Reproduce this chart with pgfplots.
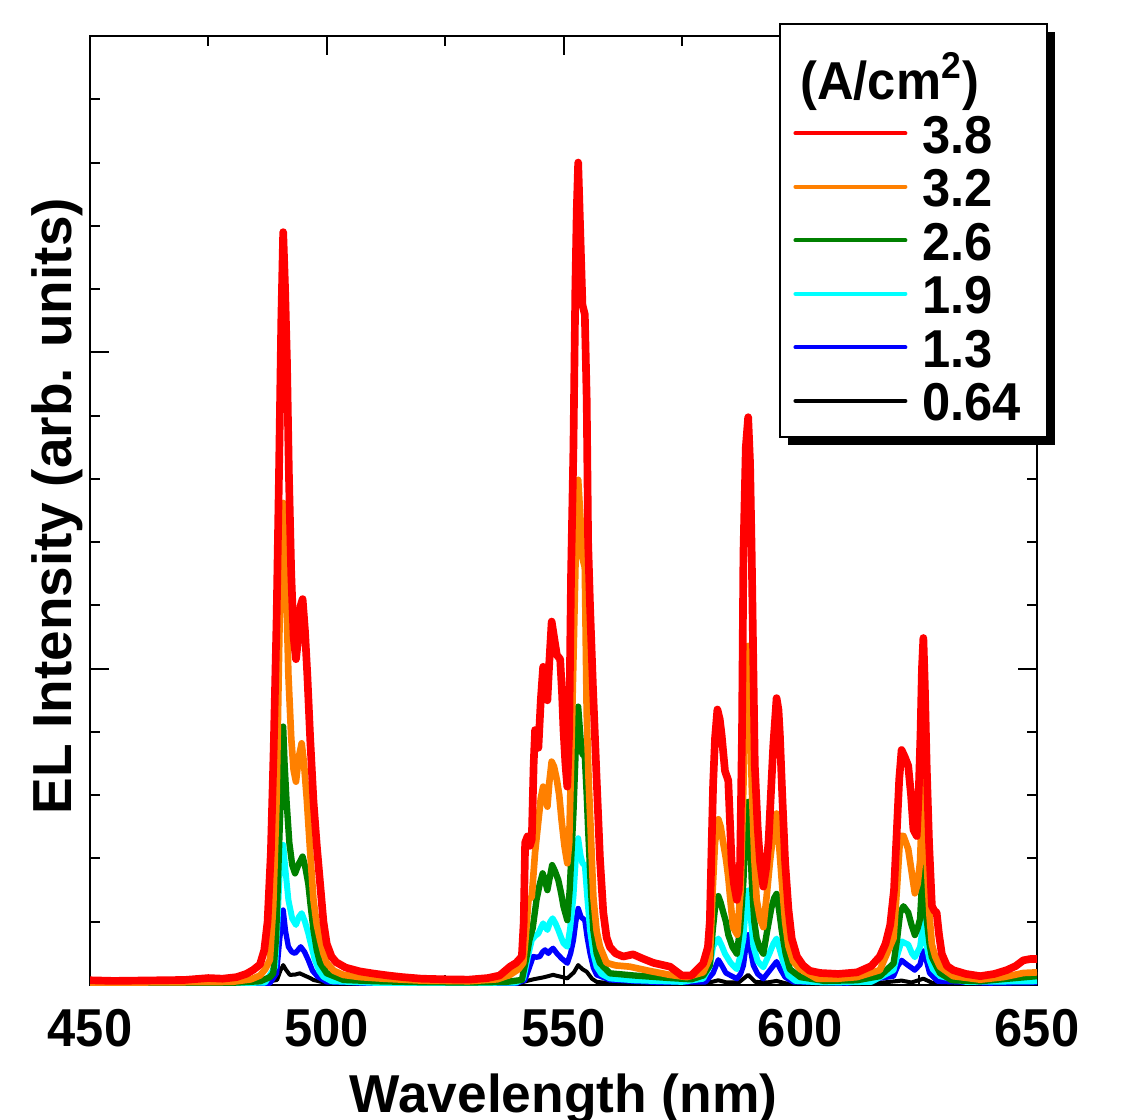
\documentclass[border=0pt]{standalone}
\usepackage{pgfplots}
\pgfplotsset{compat=1.18}
\usepackage{pgfplotstable}
\usepackage{fontspec}
\setmainfont{Liberation Sans}
\newfontfamily\nar{Liberation Sans}[FakeStretch=0.95]
\usetikzlibrary{backgrounds}
\definecolor{cRed}{RGB}{255,0,0}
\definecolor{cOrange}{RGB}{255,128,0}
\definecolor{cGreen}{RGB}{0,128,0}
\definecolor{cCyan}{RGB}{0,255,255}
\definecolor{cBlue}{RGB}{0,0,255}

\pgfplotstableread[row sep=\\]{x y\\
450 0.015\\ 455 0.013\\ 460 0.014\\ 465 0.015\\ 470 0.016\\ 475 0.022\\ 478 0.02\\ 481 0.025\\ 483 0.035\\ 484.5 0.048\\
485.9 0.065\\ 486.8 0.11\\ 487.5 0.2\\ 488.2 0.42\\ 488.8 0.75\\ 489.4 1.15\\ 489.9 1.6\\ 490.4 2.1\\ 490.8 2.38\\ 491.2 2.2\\
491.6 1.97\\ 492.0 1.62\\ 492.5 1.3\\ 493.0 1.1\\ 493.5 1.03\\ 494.0 1.1\\ 494.5 1.2\\ 494.9 1.22\\ 495.4 1.12\\ 495.9 0.98\\
496.5 0.78\\ 497.2 0.58\\ 497.9 0.44\\ 498.6 0.32\\ 499.3 0.2\\ 500 0.13\\ 501 0.09\\ 502 0.072\\ 504 0.055\\ 507 0.043\\
510 0.036\\ 513 0.03\\ 516 0.025\\ 520 0.02\\ 525 0.018\\ 530 0.017\\ 534 0.022\\ 536.5 0.03\\ 538.7 0.058\\ 540 0.07\\
541.2 0.09\\ 541.6 0.2\\ 541.9 0.45\\ 542.4 0.47\\ 542.9 0.44\\ 543.3 0.46\\ 543.7 0.7\\ 544.0 0.806\\ 544.4 0.79\\ 544.7 0.75\\
545.2 0.9\\ 545.7 1.006\\ 546.1 0.96\\ 546.6 0.9\\ 547.0 1.02\\ 547.5 1.149\\ 548.0 1.1\\ 548.6 1.043\\ 549.3 1.03\\ 549.7 0.92\\
550.0 0.806\\ 550.4 0.7\\ 550.8 0.627\\ 551.2 0.8\\ 551.6 1.3\\ 552.1 1.7\\ 552.5 2.2\\ 552.8 2.45\\ 553.1 2.6\\ 553.5 2.4\\
554.0 2.15\\ 554.5 2.12\\ 554.9 1.85\\ 555.2 1.4\\ 555.6 1.2\\ 556.2 0.95\\ 557.0 0.65\\ 557.7 0.4\\ 558.4 0.23\\ 559.1 0.15\\
559.8 0.12\\ 561 0.1\\ 562.6 0.09\\ 564.7 0.097\\ 566.5 0.085\\ 569 0.07\\ 572.5 0.058\\ 575 0.03\\ 577 0.03\\ 579.5 0.068\\
580.5 0.12\\ 580.9 0.2\\ 581.3 0.45\\ 581.6 0.634\\ 582.0 0.78\\ 582.5 0.871\\ 583.0 0.84\\ 583.4 0.79\\ 584.1 0.677\\ 584.8 0.646\\
585.2 0.5\\ 585.5 0.39\\ 586.0 0.32\\ 586.6 0.269\\ 587.0 0.3\\ 587.3 0.39\\ 587.7 0.8\\ 588.0 1.363\\ 588.5 1.7\\ 589.0 1.795\\
589.4 1.65\\ 589.75 1.36\\ 590.1 1.0\\ 590.4 0.695\\ 591.0 0.5\\ 591.5 0.39\\ 592.2 0.311\\ 592.8 0.37\\ 593.3 0.452\\ 594.3 0.756\\
595.0 0.907\\ 595.4 0.87\\ 595.7 0.79\\ 596.2 0.6\\ 596.8 0.39\\ 597.5 0.24\\ 598.2 0.147\\ 599.3 0.09\\ 600.6 0.062\\ 602 0.045\\
604.2 0.038\\ 608 0.035\\ 612 0.04\\ 615 0.06\\ 616.8 0.09\\ 618 0.13\\ 619 0.19\\ 619.8 0.3\\ 620.4 0.49\\ 620.9 0.65\\
621.4 0.743\\ 622.1 0.72\\ 622.8 0.693\\ 623.4 0.6\\ 623.9 0.491\\ 624.6 0.471\\ 625.0 0.6\\ 625.4 0.794\\ 625.7 1.0\\ 626.0 1.097\\
626.3 0.95\\ 626.7 0.693\\ 627.2 0.45\\ 627.8 0.25\\ 628.3 0.235\\ 628.8 0.229\\ 629.3 0.16\\ 629.9 0.098\\ 631 0.06\\ 632.3 0.047\\
635 0.035\\ 638 0.028\\ 641 0.035\\ 643.6 0.047\\ 645.5 0.06\\ 647.1 0.078\\ 648.5 0.082\\ 650 0.082\\
}\tRed

\pgfplotstableread[row sep=\\]{x y\\
450 0.008\\ 460 0.008\\ 470 0.009\\ 480 0.01\\ 484 0.018\\ 485.9 0.03\\ 487 0.05\\ 488 0.08\\ 488.7 0.25\\ 489.4 0.585\\
490.1 1.2\\ 490.5 1.45\\ 490.8 1.524\\ 491.2 1.35\\ 491.5 1.217\\ 491.9 0.98\\ 492.5 0.78\\ 493.0 0.68\\ 493.5 0.643\\ 494.1 0.72\\
494.7 0.764\\ 495.2 0.7\\ 495.8 0.585\\ 496.5 0.42\\ 497.2 0.269\\ 497.9 0.19\\ 498.6 0.142\\ 499.3 0.1\\ 500 0.07\\ 501.5 0.045\\
503.5 0.032\\ 507 0.025\\ 512 0.02\\ 520 0.014\\ 530 0.012\\ 536 0.018\\ 538.7 0.032\\ 540.5 0.05\\ 541.5 0.07\\ 542.0 0.15\\
542.6 0.269\\ 543.3 0.279\\ 544.0 0.42\\ 544.7 0.52\\ 545.2 0.59\\ 545.7 0.627\\ 546.1 0.6\\ 546.6 0.564\\ 547.0 0.64\\ 547.5 0.706\\
548.0 0.69\\ 548.6 0.648\\ 549.1 0.6\\ 549.6 0.52\\ 550.2 0.44\\ 550.8 0.385\\ 551.2 0.45\\ 551.6 0.7\\ 552.2 1.1\\ 552.7 1.45\\
553.1 1.597\\ 553.6 1.47\\ 554.0 1.35\\ 554.5 1.32\\ 554.9 0.86\\ 555.3 0.65\\ 555.6 0.543\\ 556.3 0.279\\ 557.0 0.17\\ 557.7 0.121\\
559.1 0.07\\ 561 0.062\\ 564 0.058\\ 568 0.045\\ 572.5 0.032\\ 576 0.025\\ 579.5 0.04\\ 580.9 0.086\\ 581.5 0.3\\ 582.0 0.451\\
582.7 0.524\\ 583.2 0.5\\ 583.7 0.452\\ 584.3 0.4\\ 584.8 0.341\\ 585.3 0.26\\ 585.8 0.183\\ 586.7 0.159\\ 587.4 0.3\\ 588.0 0.634\\
588.5 0.95\\ 589.0 1.072\\ 589.4 0.9\\ 589.75 0.634\\ 590.3 0.4\\ 590.8 0.269\\ 591.5 0.21\\ 592.2 0.183\\ 592.9 0.28\\ 593.6 0.39\\
594.3 0.48\\ 595.0 0.542\\ 595.5 0.45\\ 596.1 0.329\\ 596.8 0.2\\ 597.5 0.123\\ 598.5 0.075\\ 600 0.05\\ 603.5 0.02\\ 608 0.02\\
612 0.025\\ 616.8 0.047\\ 619.7 0.148\\ 620.4 0.3\\ 621.1 0.471\\ 621.8 0.471\\ 622.8 0.43\\ 623.5 0.36\\ 624.2 0.29\\ 624.8 0.32\\
625.3 0.39\\ 626.0 0.673\\ 626.4 0.55\\ 626.7 0.39\\ 627.3 0.22\\ 627.8 0.128\\ 628.5 0.09\\ 629.5 0.058\\ 632.3 0.028\\ 638 0.017\\
643 0.025\\ 647.1 0.038\\ 650 0.04\\
}\tOrange

\pgfplotstableread[row sep=\\]{x y\\
450 0.005\\ 470 0.006\\ 480 0.007\\ 486 0.012\\ 488 0.025\\ 488.7 0.037\\ 489.3 0.15\\ 489.8 0.374\\ 490.3 0.6\\ 490.8 0.817\\
491.1 0.7\\ 491.5 0.585\\ 492.1 0.45\\ 492.7 0.38\\ 493.3 0.353\\ 494.0 0.38\\ 494.9 0.406\\ 495.5 0.37\\ 496.1 0.32\\ 496.6 0.25\\
497.2 0.174\\ 497.9 0.11\\ 498.6 0.069\\ 500 0.037\\ 503.5 0.016\\ 510 0.012\\ 520 0.009\\ 530 0.008\\ 538 0.01\\ 541.2 0.016\\
542.2 0.09\\ 542.8 0.142\\ 543.5 0.18\\ 544.3 0.269\\ 545.0 0.32\\ 545.6 0.353\\ 546.1 0.33\\ 546.6 0.3\\ 547.1 0.34\\ 547.6 0.379\\
548.2 0.36\\ 548.9 0.332\\ 549.5 0.29\\ 550.0 0.248\\ 550.8 0.205\\ 551.3 0.3\\ 552.1 0.543\\ 552.6 0.75\\ 553.1 0.88\\ 553.6 0.78\\
554.0 0.73\\ 554.5 0.722\\ 554.9 0.6\\ 555.2 0.49\\ 555.8 0.3\\ 556.3 0.174\\ 557.0 0.1\\ 557.7 0.069\\ 559.8 0.037\\ 565 0.03\\
572.5 0.022\\ 577 0.018\\ 579.5 0.03\\ 580.9 0.062\\ 581.5 0.17\\ 582.0 0.244\\ 582.7 0.281\\ 583.2 0.26\\ 583.7 0.232\\ 584.3 0.2\\
584.8 0.159\\ 585.7 0.12\\ 586.6 0.099\\ 587.3 0.18\\ 588.0 0.329\\ 588.5 0.5\\ 589.0 0.579\\ 589.4 0.48\\ 589.75 0.329\\ 590.3 0.2\\
590.8 0.147\\ 591.5 0.115\\ 592.2 0.099\\ 593.0 0.17\\ 593.9 0.244\\ 594.5 0.275\\ 595.0 0.288\\ 595.5 0.24\\ 596.1 0.171\\ 596.9 0.1\\
597.8 0.05\\ 600 0.025\\ 605 0.013\\ 612 0.015\\ 616.8 0.028\\ 619.7 0.068\\ 620.5 0.15\\ 621.1 0.229\\ 621.8 0.249\\ 622.8 0.229\\
623.5 0.19\\ 624.2 0.158\\ 624.8 0.18\\ 625.3 0.209\\ 625.7 0.32\\ 626.0 0.38\\ 626.3 0.32\\ 626.7 0.209\\ 627.3 0.13\\ 627.8 0.088\\
629.5 0.038\\ 632 0.015\\ 638 0.012\\ 644 0.02\\ 650 0.028\\
}\tGreen

\pgfplotstableread[row sep=\\]{x y\\
450 0.004\\ 480 0.005\\ 487 0.008\\ 489.1 0.058\\ 489.6 0.2\\ 490.1 0.37\\ 490.8 0.443\\ 491.3 0.36\\ 491.9 0.269\\ 492.7 0.21\\
493.5 0.19\\ 494.1 0.215\\ 494.7 0.227\\ 495.4 0.2\\ 496.1 0.163\\ 496.8 0.12\\ 497.5 0.079\\ 498.4 0.045\\ 499.3 0.026\\ 501 0.012\\
510 0.007\\ 530 0.006\\ 540 0.008\\ 541.5 0.02\\ 542.2 0.069\\ 542.8 0.11\\ 543.3 0.142\\ 544.0 0.155\\ 544.7 0.163\\ 545.2 0.18\\
545.7 0.195\\ 546.1 0.185\\ 546.6 0.174\\ 547.2 0.2\\ 547.7 0.211\\ 548.3 0.195\\ 548.9 0.174\\ 549.5 0.15\\ 550.0 0.132\\ 550.8 0.121\\
551.4 0.18\\ 552.1 0.279\\ 552.6 0.4\\ 553.1 0.464\\ 553.6 0.41\\ 554.0 0.385\\ 554.5 0.379\\ 555.0 0.28\\ 555.6 0.174\\ 556.3 0.1\\
557.0 0.058\\ 558 0.035\\ 559.8 0.021\\ 565 0.015\\ 575 0.01\\ 579.5 0.02\\ 580.9 0.06\\ 581.6 0.123\\ 582.7 0.147\\ 583.4 0.125\\
584.1 0.099\\ 585.3 0.07\\ 586.6 0.05\\ 587.3 0.09\\ 588.0 0.147\\ 588.5 0.25\\ 589.0 0.299\\ 589.5 0.22\\ 590.1 0.123\\ 591 0.075\\
592.2 0.056\\ 593.5 0.1\\ 594.3 0.13\\ 595.0 0.147\\ 595.7 0.11\\ 596.4 0.074\\ 597.5 0.03\\ 599 0.013\\ 605 0.008\\ 615 0.01\\
619.7 0.047\\ 620.6 0.1\\ 621.4 0.138\\ 622.2 0.132\\ 622.8 0.128\\ 623.6 0.1\\ 624.2 0.088\\ 625.3 0.12\\ 626.0 0.199\\ 626.5 0.14\\
627.3 0.079\\ 628 0.05\\ 629.5 0.028\\ 635 0.01\\ 650 0.012\\
}\tCyan

\pgfplotstableread[row sep=\\]{x y\\
450 0.003\\ 480 0.003\\ 488 0.006\\ 489.4 0.037\\ 490.1 0.15\\ 490.8 0.237\\ 491.3 0.17\\ 491.9 0.121\\ 492.6 0.105\\ 493.3 0.1\\
493.9 0.11\\ 494.5 0.121\\ 495.3 0.105\\ 496.1 0.079\\ 497 0.045\\ 498.1 0.026\\ 500 0.01\\ 510 0.005\\ 540 0.005\\ 541.8 0.015\\
542.6 0.047\\ 543.6 0.09\\ 544.3 0.088\\ 545 0.09\\ 545.6 0.105\\ 546.1 0.111\\ 546.8 0.1\\ 547.3 0.11\\ 547.8 0.116\\ 548.6 0.1\\
549.6 0.084\\ 550.8 0.069\\ 551.5 0.1\\ 552.1 0.142\\ 552.6 0.2\\ 553.1 0.242\\ 553.7 0.215\\ 554.5 0.205\\ 555.0 0.15\\ 555.6 0.1\\
556.3 0.055\\ 557.0 0.032\\ 559.8 0.016\\ 570 0.008\\ 580 0.01\\ 581.6 0.038\\ 582.7 0.08\\ 583.5 0.06\\ 584.3 0.038\\ 586.6 0.02\\
587.4 0.035\\ 588.0 0.062\\ 588.5 0.12\\ 589.0 0.159\\ 589.5 0.11\\ 590.1 0.062\\ 591 0.035\\ 592.2 0.02\\ 593.5 0.045\\ 595.0 0.074\\
595.8 0.05\\ 596.8 0.025\\ 598.5 0.01\\ 610 0.006\\ 619.7 0.028\\ 620.6 0.06\\ 621.4 0.078\\ 622.5 0.065\\ 624.2 0.047\\ 625.3 0.065\\
626.0 0.108\\ 626.6 0.08\\ 627.3 0.038\\ 629 0.012\\ 640 0.006\\ 650 0.008\\
}\tBlue

\pgfplotstableread[row sep=\\]{x y\\
450 0.002\\ 485 0.003\\ 489.5 0.016\\ 490.2 0.045\\ 490.8 0.063\\ 491.4 0.048\\ 492.2 0.032\\ 493.3 0.033\\ 494.3 0.037\\ 495.3 0.03\\
496.5 0.022\\ 497.2 0.016\\ 500 0.006\\ 510 0.003\\ 540 0.004\\ 543.6 0.018\\ 545.7 0.024\\ 547.8 0.032\\ 549.5 0.026\\ 550.8 0.021\\
552.2 0.04\\ 553.1 0.063\\ 554.0 0.05\\ 554.9 0.042\\ 556 0.02\\ 557 0.01\\ 560 0.005\\ 580 0.005\\ 582.7 0.015\\ 584.5 0.008\\
587 0.008\\ 589.0 0.032\\ 590.5 0.01\\ 593 0.008\\ 595 0.013\\ 597 0.005\\ 615 0.004\\ 621.4 0.014\\ 623.5 0.008\\ 626.0 0.02\\
628 0.006\\ 650 0.004\\
}\tBlack

\begin{document}
\begin{tikzpicture}
\path[use as bounding box] (-27pt,-40.2pt) rectangle (315pt,295.5pt);
\begin{axis}[
  at={(0pt,0pt)}, anchor=south west,
  width=284.1pt, height=284.7pt, scale only axis,
  xmin=450, xmax=650, ymin=0, ymax=3,
  xtick={450,500,550,600,650}, minor x tick num=1,
  ytick={0,1,2,3}, minor y tick num=4, yticklabels={},
  tick align=inside, major tick length=5.8pt, minor tick length=2.9pt,
  tick style={black, line width=0.6pt},
  axis line style={line width=0.8pt},
  /pgf/number format/assume math mode=true,
  xticklabel style={font=\nar\bfseries\fontsize{16}{19}\selectfont, anchor=base, yshift=-18.3pt},
  xlabel={Wavelength (nm)},
  xlabel style={font=\bfseries\fontsize{16}{19}\selectfont, at={(axis description cs:0.5,-0.1338)}, anchor=base},
  ylabel={EL Intensity (arb. units)},
  ylabel style={font=\bfseries\fontsize{16.5}{19}\selectfont, at={(axis description cs:-0.0193,0.5047)}, anchor=base},
  legend cell align=left,
  legend image code/.code={\draw[line width=1.2pt, line cap=round] (0pt,0pt) -- (33pt,0pt);},
  legend style={name=leg, at={(axis description cs:1.0106,1.0126)}, anchor=north east,
    draw=black, line width=0.6pt, fill=white, outer sep=0pt,
    inner xsep=3.9pt, inner ysep=2.9pt, column sep=4.5pt, row sep=0pt,
    font=\nar\bfseries\fontsize{16}{19}\selectfont,
    nodes={inner sep=0pt, text height=14.03pt, text depth=2.03pt}},
]
\addlegendimage{legend image code/.code={\node[anchor=base west, inner sep=0pt, text height=19.8pt, text depth=2.03pt, font=\nar\bfseries\fontsize{16}{19}\selectfont] at (1pt,-6pt) {\rlap{(A/cm\textsuperscript{2})}};}}
\addlegendentry{\phantom{0}}
\addlegendimage{color=cRed}\addlegendentry{3.8}
\addlegendimage{color=cOrange}\addlegendentry{3.2}
\addlegendimage{color=cGreen}\addlegendentry{2.6}
\addlegendimage{color=cCyan}\addlegendentry{1.9}
\addlegendimage{color=cBlue}\addlegendentry{1.3}
\addlegendimage{color=black}\addlegendentry{0.64\kern3.9pt}

\addplot[forget plot, black, line width=1.2pt, line join=round] table[x index=0, y index=1] {\tBlack};
\addplot[forget plot, cBlue, line width=1.6pt, line join=round] table[x index=0, y index=1] {\tBlue};
\addplot[forget plot, cCyan, line width=1.8pt, line join=round] table[x index=0, y index=1] {\tCyan};
\addplot[forget plot, cGreen, line width=1.9pt, line join=round] table[x index=0, y index=1] {\tGreen};
\addplot[forget plot, cOrange, line width=2pt, line join=round] table[x index=0, y index=1] {\tOrange};
\addplot[forget plot, cRed, line width=2.3pt, line join=round] table[x index=0, y index=1] {\tRed};
\end{axis}
\begin{scope}[on background layer]
\fill[black] ([xshift=2.4pt,yshift=-2.4pt]leg.south west) rectangle ([xshift=2.4pt,yshift=-2.4pt]leg.north east);
\end{scope}
\end{tikzpicture}
\end{document}
